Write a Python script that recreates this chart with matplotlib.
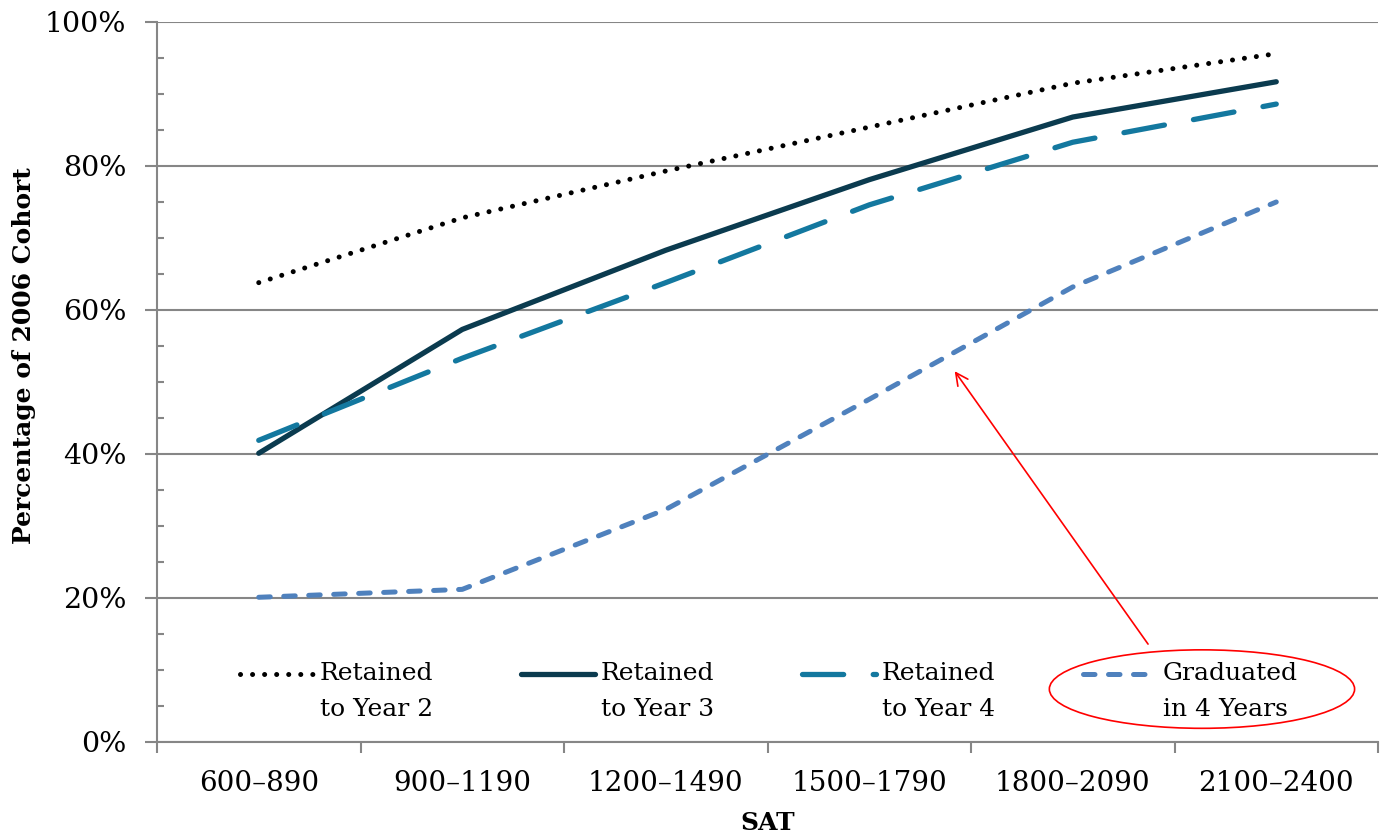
import matplotlib.pyplot as plt
import matplotlib.patches as mpatches
import matplotlib.transforms as mtransforms
from matplotlib.ticker import MultipleLocator, FuncFormatter

sat_bands = ['600\u2013890', '900\u20131190', '1200\u20131490',
             '1500\u20131790', '1800\u20132090', '2100\u20132400']
retained_y2 = [63.8, 72.8, 79.3, 85.4, 91.5, 95.6]
retained_y3 = [40.1, 57.3, 68.3, 78.1, 86.8, 91.7]
retained_y4 = [41.9, 53.3, 63.8, 74.6, 83.3, 88.6]
graduated_4 = [20.1, 21.2, 32.3, 47.6, 63.2, 75.0]

labels = ['Retained\nto Year 2', 'Retained\nto Year 3',
          'Retained\nto Year 4', 'Graduated\nin 4 Years']

grey = '#868686'
serif = 'DejaVu Serif'

fig = plt.figure(figsize=(13.83, 8.4), dpi=100)
ax = fig.add_axes([157/1383, 98/840, 1221/1383, 720/840])

x = list(range(len(sat_bands)))
ax.plot(x, retained_y2, color='black', lw=3.6, linestyle=(0, (0.01, 2.4)),
        dash_capstyle='round', label=labels[0], zorder=3)
ax.plot(x, retained_y3, color='#0b3b4f', lw=3.8, solid_capstyle='round',
        label=labels[1], zorder=3)
ax.plot(x, retained_y4, color='#13789f', lw=3.8, linestyle=(0, (7.8, 5.6)),
        dash_capstyle='round', label=labels[2], zorder=3)
ax.plot(x, graduated_4, color='#4f81bd', lw=3.6, linestyle=(0, (2.3, 2.7)),
        dash_capstyle='round', label=labels[3], zorder=3)

ax.set_xlim(-0.5, len(sat_bands) - 0.5)
ax.set_ylim(0, 100)

# y axis: gridlines every 20%, small inside ticks every 5%
ax.yaxis.set_major_locator(MultipleLocator(20))
ax.yaxis.set_minor_locator(MultipleLocator(5))
ax.yaxis.set_major_formatter(FuncFormatter(lambda v, p: '%d%%' % v))
ax.grid(axis='y', which='major', color=grey, lw=1.5, zorder=1)
ax.tick_params(axis='y', which='major', length=9, width=1.5, color=grey,
               direction='out', labelsize=20.5, pad=13)
ax.tick_params(axis='y', which='minor', length=5, width=1.5, color=grey,
               direction='in')

# x axis: labels at category centres, ticks at boundaries
ax.set_xticks(x)
ax.set_xticklabels(sat_bands)
ax.set_xticks([i - 0.5 for i in range(len(sat_bands) + 1)], minor=True)
ax.tick_params(axis='x', which='major', length=0, labelsize=20, pad=20)
ax.tick_params(axis='x', which='minor', length=8, width=1.5, color=grey,
               direction='out')

for lab in ax.get_xticklabels() + ax.get_yticklabels():
    lab.set_fontfamily(serif)

for s in ['top', 'right']:
    ax.spines[s].set_visible(False)
for s in ['left', 'bottom']:
    ax.spines[s].set_color(grey)
    ax.spines[s].set_linewidth(1.5)

ax.set_ylabel('Percentage of 2006 Cohort', fontsize=18, fontweight='bold',
              family=serif)
ax.yaxis.set_label_coords(-0.099, 0.537)
ax.set_xlabel('SAT', fontsize=18, fontweight='bold', family=serif, labelpad=10)

leg = ax.legend(loc='upper left', bbox_to_anchor=(0.068, 0.111), ncol=4,
                frameon=False, borderaxespad=0, borderpad=0,
                prop={'family': serif, 'size': 18}, handlelength=2.95,
                handletextpad=0.25, columnspacing=3.5)
for t in leg.get_texts():
    t.set_linespacing(1.7)
# put the handles level with the first line of each label
shift = mtransforms.ScaledTranslation(0, 12.4/72, fig.dpi_scale_trans)
for h in leg.legend_handles:
    h.set_transform(h.get_transform() + shift)

# red callout
ax.add_patch(mpatches.Ellipse((4.635, 7.35), 1.5, 10.9, fill=False,
                              edgecolor='red', lw=1.2, zorder=4))
ax.annotate('', xy=(3.42, 51.5), xytext=(4.37, 13.6),
            arrowprops=dict(arrowstyle='->', color='red', lw=1.2,
                            mutation_scale=22, shrinkA=0, shrinkB=0))

fig.savefig('out.png', dpi=100)
